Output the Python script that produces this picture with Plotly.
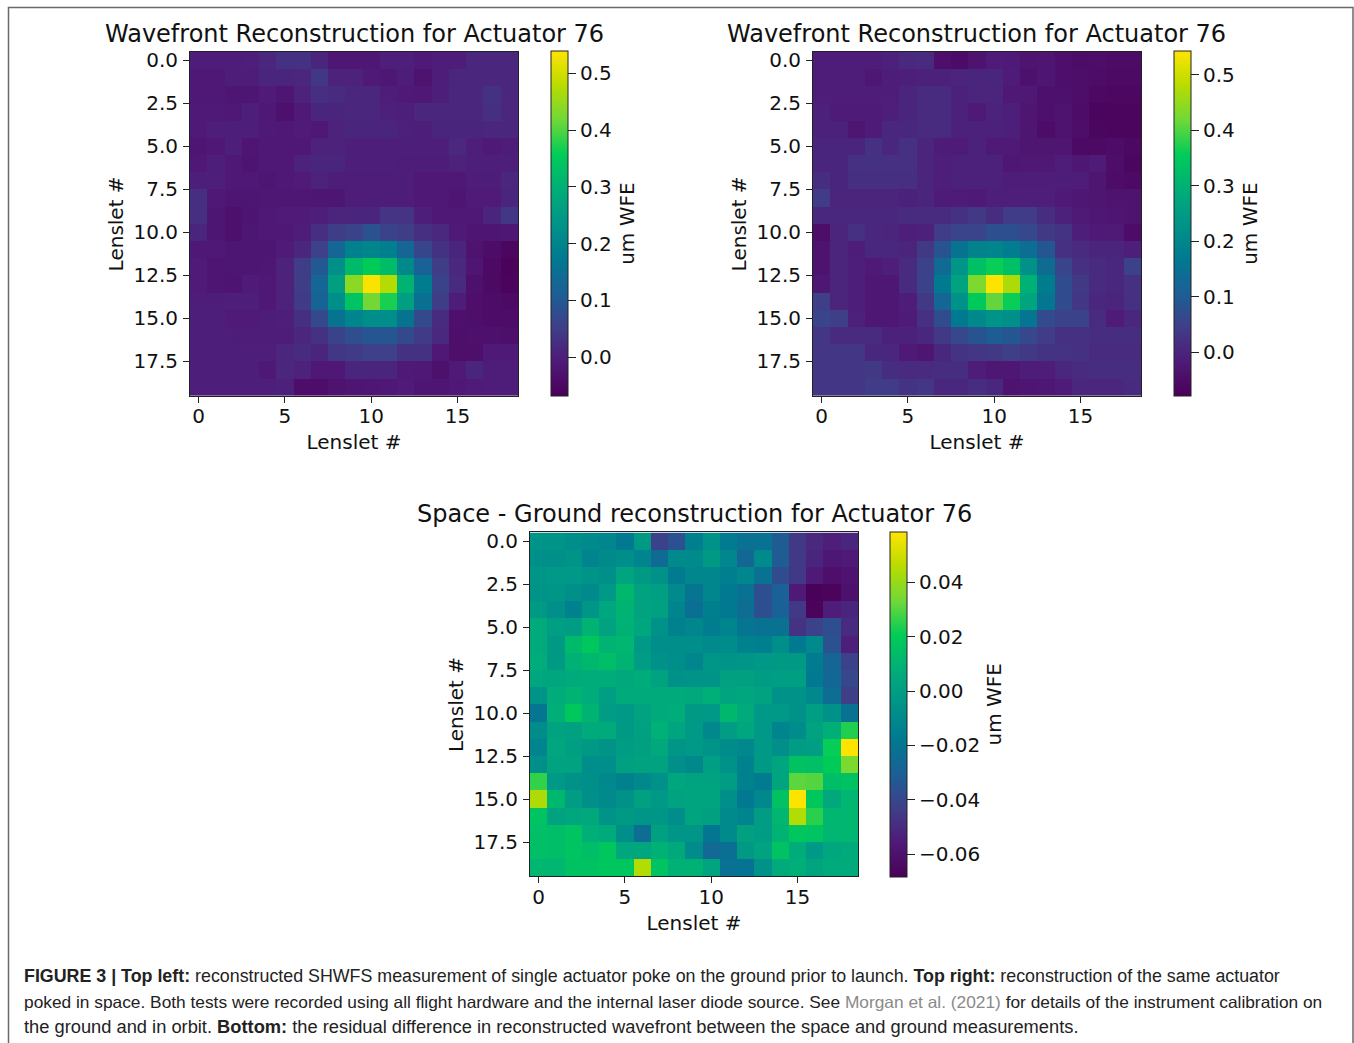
import plotly.graph_objects as go

A = [
[-.005,-.005,-.005,.0,.012,.03,.03,.01,-.015,-.015,-.015,-.002,-.002,-.01,-.005,-.005,.012,.012,.012],
[-.012,-.012,-.005,-.005,.01,.01,.012,.04,.005,.005,-.01,-.015,-.005,-.025,-.005,.012,.012,.012,.012],
[-.012,-.012,-.02,-.018,-.008,-.02,.005,.025,.02,.012,.012,-.005,-.01,-.012,.0,.012,.012,.03,.012],
[-.01,-.01,-.012,-.002,-.012,-.03,-.01,.01,.01,.012,.012,.002,.0,.012,.012,.012,.012,.025,.012],
[-.01,-.002,-.002,-.002,-.01,-.012,-.008,-.012,.005,.01,.01,.01,.002,.0,.01,.01,.01,.012,.012],
[-.02,-.012,-.002,-.02,-.012,-.012,-.012,.005,.005,.0,.0,.0,.0,.0,.0,.015,.0,-.01,-.005],
[-.012,-.002,-.012,-.022,-.012,-.012,.005,.01,.01,.0,.0,.0,-.005,-.005,-.005,.005,.0,.0,.0],
[.0,.0,-.012,-.012,-.018,-.012,-.008,.005,-.005,-.005,-.005,-.005,-.005,-.012,-.012,-.012,-.003,-.003,.012],
[.025,-.012,-.02,-.018,-.015,-.015,-.015,-.018,-.018,-.003,-.003,-.003,-.003,-.012,-.012,-.02,-.008,-.008,.01],
[.025,-.018,-.03,-.022,-.012,-.008,-.008,-.002,.008,.01,.01,.035,.035,-.002,-.012,-.012,-.012,.01,.04],
[.01,-.018,-.03,-.018,-.012,-.012,-.005,.025,.05,.06,.085,.06,.05,.025,.015,-.01,-.02,-.02,-.015],
[-.012,-.012,-.018,-.018,-.018,-.008,.012,.055,.125,.19,.2,.185,.125,.065,.03,.01,-.025,-.04,-.055],
[-.008,-.02,-.018,-.018,-.015,.005,.05,.10,.225,.32,.355,.325,.21,.115,.05,.015,-.02,-.045,-.065],
[-.008,-.02,-.022,-.008,-.012,.005,.05,.125,.26,.44,.535,.475,.305,.18,.06,.02,-.03,-.045,-.06],
[-.005,-.005,-.002,.0,-.012,.005,.045,.12,.22,.34,.42,.37,.26,.15,.05,-.005,-.035,-.04,-.045],
[-.002,-.002,-.008,-.008,-.005,-.002,.025,.07,.16,.2,.22,.22,.16,.07,.02,-.03,-.035,-.04,-.04],
[-.002,-.002,-.005,-.005,-.005,-.005,.012,.03,.06,.08,.095,.095,.07,.045,.015,-.035,-.03,-.03,-.035],
[.0,.0,-.002,-.002,-.002,.012,.02,.01,.04,.045,.055,.055,.03,.03,-.012,-.035,-.035,-.01,-.01],
[.0,.0,.0,.0,-.012,.012,.005,-.012,-.012,.01,.01,.01,-.01,-.012,-.032,-.01,.01,-.005,-.005],
[.0,.0,.0,-.002,-.002,.002,-.038,-.038,-.025,-.02,-.015,-.012,-.008,-.02,-.02,-.012,-.008,-.005,-.005],
]

B = [
[-.012,-.012,-.012,-.012,-.005,.008,.012,-.042,-.052,-.035,-.015,-.018,-.032,-.03,-.042,-.048,-.045,-.052,-.052],
[-.012,-.012,-.012,-.025,-.012,-.01,-.005,-.005,.0,.002,.002,-.015,-.04,-.028,-.042,-.045,-.05,-.055,-.055],
[-.012,-.012,-.012,-.012,-.012,.0,.01,.01,-.005,.0,.0,-.022,-.022,-.04,-.04,-.045,-.06,-.062,-.062],
[-.005,-.015,-.015,-.015,-.01,.002,.01,.01,-.005,-.02,-.002,-.01,-.03,-.04,-.035,-.05,-.068,-.068,-.068],
[-.005,-.005,-.03,-.015,.005,.005,.01,.01,-.005,-.005,-.005,-.01,-.03,-.05,-.035,-.045,-.065,-.068,-.068],
[.002,.002,.002,.02,.005,.02,.0,-.015,-.015,-.005,-.02,-.02,-.03,-.03,-.03,-.055,-.055,-.05,-.06],
[.002,.002,.02,.022,.02,.02,.0,-.01,-.005,-.005,-.005,-.025,-.022,-.022,-.012,-.025,-.015,-.045,-.065],
[.015,.002,.018,.018,.018,.018,.0,-.01,-.005,-.005,-.005,-.012,-.012,-.012,-.012,-.012,-.03,-.05,-.055],
[.04,.0,.0,.0,.0,-.005,.0,-.015,-.015,-.018,-.008,-.008,-.008,-.008,-.018,-.025,-.03,-.035,-.035],
[.005,.005,.005,.005,.005,.01,.01,.01,.022,.035,.015,.04,.04,.015,-.005,-.02,-.025,-.028,-.035],
[-.045,.0,.02,.005,.0,-.01,-.005,.04,.055,.055,.075,.075,.06,.035,.025,-.01,-.018,-.02,-.05],
[-.035,.0,-.012,.005,.005,.0,.035,.085,.155,.19,.195,.18,.14,.09,.02,.012,.0,.0,-.008],
[-.035,.0,-.01,-.018,-.01,.012,.05,.13,.235,.33,.36,.33,.225,.135,.055,.02,.012,.005,.05],
[-.025,.0,-.01,-.025,-.025,.012,.05,.17,.265,.43,.54,.47,.30,.175,.07,.035,.012,.005,.02],
[.045,.0,-.008,-.025,-.025,-.012,.035,.12,.225,.35,.41,.36,.27,.16,.07,.03,.005,.0,.02],
[.055,.045,-.005,-.025,-.025,-.015,.02,.07,.17,.205,.23,.22,.16,.065,.05,.05,.01,-.015,.005],
[.03,.01,.01,.01,-.005,-.005,.005,.035,.06,.085,.1,.09,.06,.04,.02,.02,.015,.015,.015],
[.03,.03,.03,.005,.005,-.018,-.03,.005,.025,.03,.035,.045,.035,.025,.025,.022,.01,.01,.01],
[.03,.03,.03,.035,.015,.01,.01,.015,.015,-.012,-.025,-.025,-.012,-.012,.005,.01,.015,.015,.015],
[.03,.03,.03,.04,.04,.025,.03,.005,.005,.015,.005,-.035,-.028,-.025,-.015,.003,.003,.003,.012],
]

C = [
[-.005,-.005,-.008,-.01,-.012,-.018,-.002,-.042,-.036,-.015,-.006,-.017,-.022,-.022,-.032,-.045,-.051,-.054,-.052],
[-.007,-.007,-.005,-.013,-.01,-.008,-.013,-.025,-.01,-.01,-.002,-.012,-.027,-.01,-.032,-.045,-.052,-.057,-.056],
[-.004,-.003,-.003,-.005,-.007,.003,-.002,-.006,-.017,-.012,-.012,-.015,-.012,-.022,-.038,-.045,-.056,-.061,-.059],
[-.005,-.004,-.007,-.01,-.003,.012,.002,.0,-.01,-.02,-.012,-.018,-.022,-.037,-.03,-.056,-.068,-.067,-.06],
[-.002,-.007,-.014,-.004,.004,.01,.002,.001,-.013,-.023,-.015,-.018,-.024,-.037,-.03,-.045,-.067,-.055,-.052],
[.006,.0,-.001,.01,.002,.009,.004,-.006,-.014,-.012,-.016,-.013,-.02,-.022,-.022,-.047,-.042,-.037,-.05],
[.006,-.002,.013,.018,.01,.011,-.003,-.008,-.008,-.008,-.01,-.009,-.014,-.015,-.008,-.018,-.01,-.036,-.054],
[.007,-.002,.009,.012,.014,.01,-.001,-.006,-.008,-.012,-.004,-.005,-.004,-.003,-.002,-.002,-.017,-.028,-.042],
[.004,.004,.006,.007,.007,.005,.007,.002,-.006,-.005,-.005,.001,.001,-.001,.0,.0,-.018,-.027,-.04],
[-.005,.007,.01,.007,.0,.006,.006,.006,.006,.005,.008,.003,.004,.002,-.006,-.006,-.011,-.024,-.043],
[-.02,.008,.018,.01,-.001,-.003,.002,.006,.007,-.002,-.003,.012,.006,-.003,-.003,-.006,.0,-.006,-.022],
[-.009,.002,.001,.006,.006,-.002,.001,.009,.003,-.003,-.011,-.001,.004,-.003,-.013,-.009,.002,.008,.024],
[-.013,.004,.0,-.002,-.005,-.001,.001,.005,-.004,-.003,-.005,-.009,-.011,-.003,-.007,-.001,.0,.021,.058],
[-.007,.002,.002,-.008,-.008,.001,.002,.002,-.007,-.011,.0,-.006,-.014,-.002,.003,.016,.015,.02,.035],
[.026,-.003,-.006,-.007,-.011,-.014,-.011,-.006,.004,.002,.002,-.001,-.014,-.017,.003,.031,.03,.014,.016],
[.044,.012,-.001,-.007,-.01,-.006,.001,-.003,.002,.003,.003,-.007,-.018,-.011,.016,.058,.018,.005,.011],
[.017,.002,.004,.005,-.005,-.002,-.004,-.004,-.008,.003,.001,-.01,-.013,-.001,.011,.045,.025,.011,.011],
[.015,.014,.017,.008,.006,-.008,-.024,.001,-.004,-.004,-.019,-.01,.001,-.001,.01,.018,.017,.011,.011],
[.015,.014,.017,.014,.018,.004,.004,.009,.005,-.009,-.026,-.023,-.002,.002,.016,.007,-.003,.004,.006],
[.011,.011,.016,.016,.018,.018,.045,.017,.009,.009,.003,-.022,-.021,-.006,.006,.008,.003,.006,.006],
]

x_ticks = [0, 5, 10, 15]
y_ticks = [0, 2.5, 5, 7.5, 10, 12.5, 15, 17.5]
title_a = "Wavefront Reconstruction for Actuator 76"
title_c = "Space - Ground reconstruction for Actuator 76"
axis_label = "Lenslet #"
cbar_label = "um WFE"
cbar_a = [0.0, 0.1, 0.2, 0.3, 0.4, 0.5]
cbar_c = [-0.06, -0.04, -0.02, 0.0, 0.02, 0.04]
caption = [
    "<b>FIGURE 3 | Top left:</b> reconstructed SHWFS measurement of single actuator poke on the ground prior to launch. <b>Top right:</b> reconstruction of the same actuator",
    "poked in space. Both tests were recorded using all flight hardware and the internal laser diode source. See <span style='color:#8a8a8a'>Morgan et al. (2021)</span> for details of the instrument calibration on",
    "the ground and in orbit. <b>Bottom:</b> the residual difference in reconstructed wavefront between the space and ground measurements.",
]
cap_sizes = [17.83, 17.32, 18.3]

W, H = 1354, 1043
scale = [[0, "#4a0058"], [.1, "#4f1a78"], [.2, "#3f3f88"], [.3, "#1a6096"], [.4, "#007a90"],
         [.5, "#009488"], [.6, "#00ae78"], [.7, "#00cc58"], [.8, "#70d838"], [.9, "#b8dc00"], [1, "#ffe400"]]
FONT = "DejaVu Sans"
TICK = 20

panels = [
    dict(z=A, zmin=-0.069, zmax=0.539, ax=(190, 518, 49, 394), cb=551, ticks=cbar_a, fmt=".1f", title=title_a,
         title_y=31, label_x=627, label_y=221.5, x_pad=-4, x_std=8),
    dict(z=B, zmin=-0.079, zmax=0.542, ax=(813, 1141, 49, 394), cb=1174, ticks=cbar_a, fmt=".1f", title=title_a,
         title_y=31, label_x=1250, label_y=221.5, x_pad=-4, x_std=8),
    dict(z=C, zmin=-0.0684, zmax=0.0585, ax=(530, 858, 531, 876), cb=890, ticks=cbar_c, fmt=".2f", title=title_c,
         title_y=512.5, label_x=994, label_y=703.5, x_pad=-3, x_std=7),
]

fig = go.Figure()
layout = dict(
    width=W, height=H, margin=dict(l=0, r=0, t=0, b=0), autosize=False,
    paper_bgcolor="white", plot_bgcolor="white", font=dict(family=FONT, size=TICK, color="#111"),
    showlegend=False,
)
annotations = []
for i, p in enumerate(panels):
    n = "" if i == 0 else str(i + 1)
    l, r, t, b = p["ax"]
    fig.add_trace(go.Heatmap(
        z=p["z"], x0=0, dx=1, y0=0, dy=1, xaxis=f"x{n}", yaxis=f"y{n}",
        zmin=p["zmin"], zmax=p["zmax"], colorscale=scale, zsmooth=False,
        colorbar=dict(
            x=p["cb"] / W, xanchor="left", xref="paper", y=1 - (t + b) / 2 / H, yanchor="middle", yref="paper",
            len=b - t, lenmode="pixels", thickness=17, thicknessmode="pixels", xpad=0, ypad=0,
            outlinewidth=1, outlinecolor="#222", ticks="outside", ticklen=8, tickwidth=1, tickcolor="#222",
            tickvals=p["ticks"], tickformat=p["fmt"], tickfont=dict(family=FONT, size=TICK),
        ),
    ))
    layout[f"xaxis{n}"] = dict(
        domain=[l / W, r / W], range=[-0.5, 18.5], anchor=f"y{n}", tickvals=x_ticks, ticks="outside",
        ticklen=6, tickcolor="#222", showline=True, mirror=True, linecolor="#222", linewidth=1,
        showgrid=False, zeroline=False, tickfont=dict(family=FONT, size=TICK), ticklabelstandoff=p["x_pad"],
        title=dict(text=axis_label, font=dict(family=FONT, size=TICK), standoff=p["x_std"]),
    )
    layout[f"yaxis{n}"] = dict(
        domain=[1 - b / H, 1 - t / H], range=[19.5, -0.5], anchor=f"x{n}", tickvals=y_ticks, tickformat=".1f",
        ticks="outside", ticklen=6, tickcolor="#222", showline=True, mirror=True, linecolor="#222", linewidth=1,
        showgrid=False, zeroline=False, tickfont=dict(family=FONT, size=TICK), ticklabelstandoff=1,
        title=dict(text=axis_label, font=dict(family=FONT, size=TICK), standoff=4),
    )
    annotations.append(dict(
        text=p["title"], x=(l + r) / 2 / W, y=1 - p["title_y"] / H, xref="paper", yref="paper",
        xanchor="center", yanchor="middle", showarrow=False, font=dict(family=FONT, size=24),
    ))
    annotations.append(dict(
        text=cbar_label, x=p["label_x"] / W, y=1 - p["label_y"] / H, xref="paper", yref="paper",
        xanchor="center", yanchor="middle", showarrow=False, textangle=-90, font=dict(family=FONT, size=TICK),
    ))

for line, yc, size in zip(caption, [976, 1002, 1026], cap_sizes):
    annotations.append(dict(
        text=line, x=22 / W, y=1 - yc / H, xref="paper", yref="paper", xanchor="left", yanchor="middle",
        showarrow=False, align="left", font=dict(family="Liberation Sans", size=size, color="#222"),
    ))

frame = dict(type="path", xref="paper", yref="paper", line=dict(color="#6a6a6a", width=1.5),
             path=f"M {8.5/W} 0 L {8.5/W} {1-4.5/H} L {1353/W} {1-4.5/H} L {1353/W} 0")
layout["annotations"] = annotations
layout["shapes"] = [frame]
fig.update_layout(**layout)
fig.write_html("out.html", config=dict(displayModeBar=False),
               post_script="document.body.style.margin='0';document.body.style.overflow='hidden';")
